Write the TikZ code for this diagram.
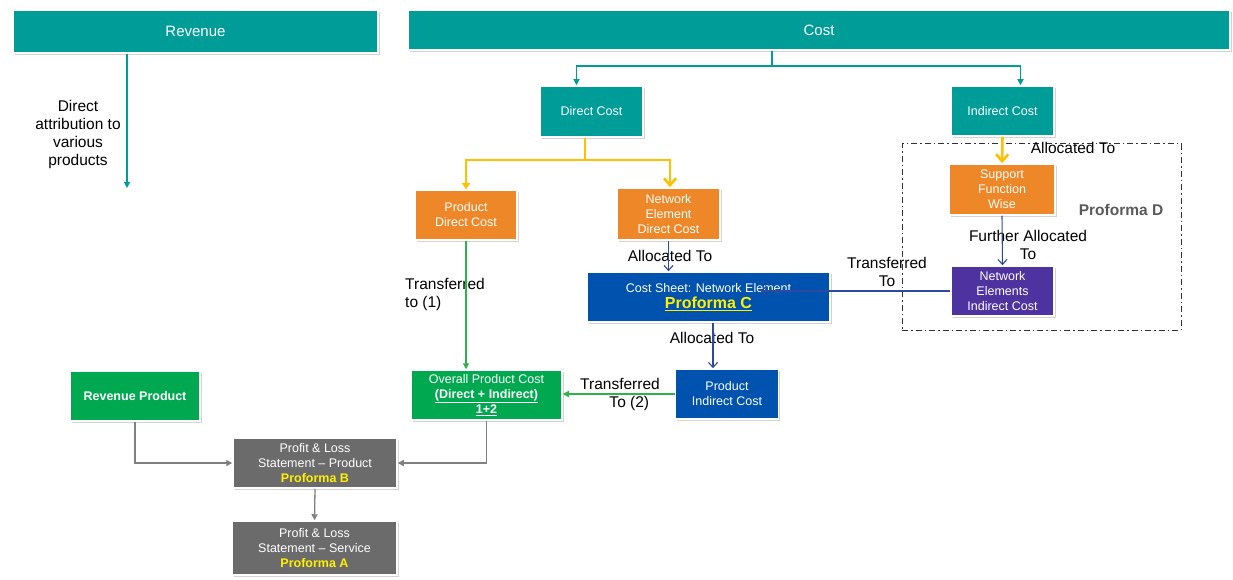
\documentclass[tikz,border=0pt]{standalone}
\usepackage{fontspec}
\setmainfont{Liberation Sans}
\usetikzlibrary{arrows.meta,shadows,calc}
\definecolor{cteal}{HTML}{009C97}
\definecolor{corange}{HTML}{EE8728}
\definecolor{cblue}{HTML}{0052AF}
\definecolor{cpurple}{HTML}{4E32A0}
\definecolor{cgreen}{HTML}{00A850}
\definecolor{cgraybox}{HTML}{6B6B6B}
\definecolor{cyel}{HTML}{FFF000}
\definecolor{carrowyel}{HTML}{FFC000}
\definecolor{clineblue}{HTML}{2E4A9E}
\definecolor{clinegreen}{HTML}{2DB34A}
\definecolor{clinegray}{HTML}{808080}
\definecolor{cpd}{HTML}{595959}
\tikzset{
  box/.style={draw=white, line width=1.5pt, text=white, align=center,
    font=\fontsize{12.5}{15}\selectfont, inner sep=1pt,
    drop shadow={shadow xshift=1.5pt, shadow yshift=-2pt, opacity=0.35, fill=black!50}},
  lbl/.style={align=center, text=black, font=\fontsize{15.5}{18}\selectfont, inner sep=0pt},
  tealarrow/.style={draw=cteal, line width=1.2pt, -{Triangle[width=6pt,length=6pt]}},
  tealline/.style={draw=cteal, line width=1.2pt},
  yelline/.style={draw=carrowyel, line width=2.6pt},
  yelsmall/.style={draw=carrowyel, line width=2.6pt, -{Triangle[width=8pt,length=6pt]}},
  yelbig/.style={draw=carrowyel, line width=2.6pt, -{Straight Barb[width=12pt,length=7pt]}},
  bluearrow/.style={draw=clineblue, line width=1.1pt, -{Straight Barb[width=9pt,length=5pt]}},
  greenarrow/.style={draw=clinegreen, line width=1.2pt, -{Triangle[width=6pt,length=6pt]}},
  grayarrow/.style={draw=clinegray, line width=1.3pt, -{Triangle[width=6pt,length=6pt]}},
}
\begin{document}
\begin{tikzpicture}[x=1pt,y=-1pt]
\useasboundingbox (0,0) rectangle (1233,580);
% dashed proforma D frame
\node[draw=black!80, line width=1pt, dash pattern=on 6pt off 3pt on 1.5pt off 3pt,
  minimum width=279pt, minimum height=186pt, inner sep=0pt] (pdbox) at (1041.5,237) {};
% boxes
\node[box, fill=cteal, minimum width=365pt, minimum height=43pt, font=\fontsize{15}{18}\selectfont] (rev) at (195.5,31.5) {Revenue};
\node[box, fill=cteal, minimum width=822pt, minimum height=40pt, font=\fontsize{15}{18}\selectfont] (cost) at (819,30) {Cost};
\node[box, fill=cteal, minimum width=103pt, minimum height=51pt] (dc) at (591.5,111.5) {Direct Cost};
\node[box, fill=cteal, minimum width=103pt, minimum height=50pt] (ic) at (1002.5,111) {Indirect Cost};
\node[box, fill=corange, minimum width=102pt, minimum height=50pt] (pdc) at (466,215) {Product\\Direct Cost};
\node[box, fill=corange, minimum width=103pt, minimum height=52pt] (nedc) at (668.5,214) {Network\\Element\\Direct Cost};
\node[box, fill=corange, minimum width=106pt, minimum height=51pt] (sfw) at (1002,189.5) {Support\\Function\\Wise};
\node[box, fill=cpurple, minimum width=103pt, minimum height=50pt] (neic) at (1002.5,291) {Network\\Elements\\Indirect Cost};
\node[box, fill=cblue, minimum width=243pt, minimum height=50pt] (cs) at (708.5,297)
  {Cost Sheet: Network Element\\[1pt]{\fontsize{16}{18}\selectfont\bfseries\color{cyel}\underline{Proforma C}}};
\node[box, fill=cblue, minimum width=103pt, minimum height=50pt] (pic) at (727,394) {Product\\Indirect Cost};
\node[box, fill=cgreen, minimum width=151pt, minimum height=50pt] (opc) at (486.5,395)
  {Overall Product Cost\\\textbf{\underline{(Direct + Indirect)}}\\\textbf{\underline{1+2}}};
\node[box, fill=cgreen, minimum width=130pt, minimum height=50pt, font=\fontsize{12.5}{15}\bfseries\selectfont] (rp) at (135,396) {Revenue Product};
\node[box, fill=cgraybox, minimum width=164pt, minimum height=50pt] (plp) at (315,463)
  {Profit \& Loss\\Statement -- Product\\{\bfseries\color{cyel}Proforma B}};
\node[box, fill=cgraybox, minimum width=165pt, minimum height=54pt] (pls) at (314.5,548)
  {Profit \& Loss\\Statement -- Service\\{\bfseries\color{cyel}Proforma A}};
% labels
\node[lbl] (l1) at (78,134) {Direct\\attribution to\\various\\products};
\node[lbl, align=left, anchor=west] (l2) at (405,294) {Transferred\\to (1)};
\node[lbl] (l3) at (670,256) {Allocated To};
\node[lbl] (l4) at (712,338) {Allocated To};
\node[lbl] (l5) at (1073,148) {Allocated To};
\node[lbl] (l6) at (1028,245) {Further Allocated\\To};
\node[lbl] (l7) at (887,272) {Transferred\\To};
\node[lbl] (l8) at (620,394) {Transferred\\\hspace*{1.2em}To (2)};
\node[lbl, font=\fontsize{15.5}{18}\bfseries\selectfont, text=cpd] (l9) at (1121,210) {Proforma D};
% connectors
\coordinate (revend) at (127,188);
\draw[tealarrow] (rev.south -| revend) -- (revend);
\coordinate (costsplit) at (772,66);
\draw[tealline] (cost.south -| costsplit) -- (costsplit);
\draw[tealarrow] (costsplit) -| ([xshift=-15pt]dc.north);
\draw[tealarrow] (costsplit) -| ([xshift=18pt]ic.north);
\coordinate (ysplit) at (585,160);
\draw[yelline] ([xshift=-6.5pt]dc.south) -- (ysplit);
\draw[yelsmall] (ysplit) -| (pdc.north);
\draw[yelbig] (ysplit) -| ([xshift=1.5pt]nedc.north);
\draw[yelbig] (ic.south) -- (sfw.north);
\draw[bluearrow] (nedc.south) -- (nedc.south |- cs.north);
\draw[bluearrow] (sfw.south) -- (neic.north);
\draw[bluearrow] (neic.west) -- ([xshift=52pt]cs.center |- neic.west);
\draw[bluearrow] ([xshift=4.5pt]cs.south) -- ([xshift=4.5pt]cs.south |- pic.north);
\draw[greenarrow] (pdc.south) -- (pdc.south |- opc.north);
\draw[greenarrow] (pic.west) -- (pic.west -| opc.east);
\draw[grayarrow] (rp.south) |- (plp.west);
\draw[grayarrow] (opc.south) |- (plp.east);
\draw[grayarrow] (plp.south) -- (pls.north);
\end{tikzpicture}
\end{document}
